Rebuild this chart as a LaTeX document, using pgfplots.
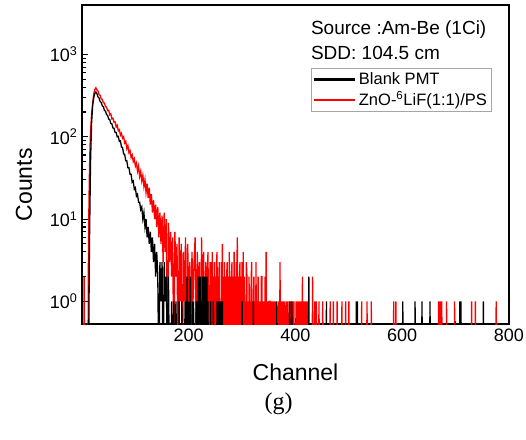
\documentclass[border=0pt]{standalone}
\usepackage{fontspec}
\setmainfont{Liberation Sans}
\newfontfamily\capfont{Liberation Serif}
\usepackage{pgfplots}
\pgfplotsset{compat=1.18}
\begin{document}
\begin{tikzpicture}[x=1pt,y=1pt]
\path[use as bounding box] (-82,-115) rectangle (444,324);
\begin{axis}[
  at={(0pt,0pt)}, anchor=south west,
  scale only axis, width=427pt, height=319pt,
  xmin=0, xmax=800, ymin=0.53, ymax=4000, ymode=log,
  xtick={200,400,600,800}, minor x tick num=1,
  ytick={1,10,100,1000},
  yticklabels={10\textsuperscript{0},10\textsuperscript{1},10\textsuperscript{2},10\textsuperscript{3}},
  tick align=inside, xtick pos=bottom, ytick pos=left,
  major tick length=6pt, minor tick length=3.5pt,
  axis line style={line width=1.6pt},
  every tick/.style={black, line width=1.1pt},
  /pgf/number format/assume math mode=true,
  tick label style={font=\fontsize{18}{20}\selectfont},
  xticklabel style={yshift=-1pt},
  yticklabel style={xshift=-1pt},
  xlabel={Channel}, ylabel={Counts},
  every axis x label/.style={at={(axis description cs:0.5,-0.15)}, anchor=center, font=\fontsize{23}{26}\selectfont},
  every axis y label/.style={at={(axis description cs:-0.136,0.436)}, anchor=center, rotate=90, font=\fontsize{23}{26}\selectfont},
  legend style={at={(rel axis cs:0.958,0.8025)}, anchor=north east, draw=gray!70,
    inner xsep=2pt, inner ysep=2pt, font=\fontsize{16.5}{19}\selectfont, row sep=2pt,
    cells={anchor=west}},
]
\addlegendimage{legend image code/.code={\fill[black] (0pt,-0.8pt) rectangle (40pt,0.8pt); \path (43pt,0pt);}}
\addlegendentry{Blank PMT}
\addlegendimage{legend image code/.code={\fill[red] (0pt,-0.8pt) rectangle (40pt,0.8pt); \path (43pt,0pt);}}
\addlegendentry{ZnO-\textsuperscript{6}LiF(1:1)/PS}
% zero counts are written as 0.1 (below the axis) so that the spectrum drops to the bottom
\addplot[red, line width=1.3pt, forget plot] table[row sep=\\] {
x y\\
3 0.1\\4 2\\5 0.1\\11 0.1\\12 3\\13 15\\14 40\\15 75\\16 115\\18 190\\20 260\\22 330\\24 375\\26 395\\28 370\\30 360\\32 325\\34 320\\36 290\\38 285\\40 260\\42 258\\44 232\\46 230\\48 208\\50 210\\52 185\\54 190\\56 165\\58 168\\60 150\\62 152\\64 132\\66 138\\68 118\\70 122\\72 104\\74 110\\76 96\\78 100\\80 84\\82 88\\84 72\\86 78\\88 64\\90 68\\92 56\\94 60\\96 50\\98 54\\100 44\\102 48\\104 38\\106 44\\108 33\\110 38\\112 29\\114 34\\116 25\\118 30\\120 21\\122 27\\124 18\\126 24\\128 15\\
130 20\\132 12\\134 17\\136 10\\138 15\\140 8\\142 14\\144 6\\146 12\\148 5\\150 11\\152 3\\154 12\\156 4\\158 10\\160 0.1\\162 9\\164 3\\166 7\\168 2\\170 6\\172 0.1\\174 7\\176 2\\178 5\\180 0.1\\182 6\\184 1\\186 5\\188 0.1\\190 4\\192 1\\194 6\\196 0.1\\198 5\\200 1\\202 3\\204 0.1\\206 4\\208 1\\210 3\\212 6\\214 0.1\\216 4\\218 1\\220 3\\222 0.1\\224 6\\226 1\\228 4\\230 0.1\\232 3\\234 1\\236 4\\238 0.1\\240 3\\
241 0.1\\242 3\\243 0.1\\244 4\\245 0.1\\246 2\\247 0.1\\248 3\\249 0.1\\250 2\\251 0.1\\252 3\\253 4\\254 0.1\\255 2\\256 0.1\\257 3\\258 0.1\\259 1\\260 0.1\\261 3\\262 0.1\\263 5\\264 0.1\\265 2\\266 0.1\\267 3\\268 0.1\\269 2\\270 0.1\\271 2\\272 3\\273 0.1\\274 2\\275 0.1\\276 4\\277 0.1\\278 2\\279 0.1\\280 2\\281 3\\282 0.1\\283 2\\284 0.1\\285 4\\286 0.1\\287 2\\288 0.1\\289 3\\290 2\\291 6\\292 0.1\\293 2\\294 0.1\\295 2\\296 3\\297 0.1\\298 2\\299 0.1\\300 3\\301 0.1\\302 4\\303 0.1\\304 2\\305 0.1\\306 1\\307 0.1\\308 3\\309 2\\310 0.1\\311 1\\312 0.1\\313 2\\314 0.1\\315 1\\316 0.1\\317 2\\318 3\\319 0.1\\320 1\\321 0.1\\322 2\\323 0.1\\324 1\\325 0.1\\326 3\\327 0.1\\328 1\\329 0.1\\330 2\\331 0.1\\332 1\\333 0.1\\334 1\\335 0.1\\336 2\\337 2\\338 0.1\\339 1\\340 0.1\\341 1\\342 0.1\\343 2\\344 0.1\\345 4\\346 0.1\\347 1\\348 0.1\\349 1\\350 0.1\\351 1\\352 1\\353 0.1\\354 1\\355 0.1\\356 1\\357 0.1\\358 1\\359 0.1\\360 1\\361 0.1\\362 1\\363 0.1\\
367 0.1\\368 1\\369 0.1\\370 0.1\\371 3\\372 0.1\\373 0.1\\374 1\\375 0.1\\376 0.1\\377 1\\378 0.1\\379 0.1\\380 1\\381 0.1\\382 0.1\\383 1\\384 0.1\\385 0.1\\386 1\\387 0.1\\389 0.1\\390 1\\391 0.1\\393 0.1\\394 1\\395 0.1\\396 0.1\\397 1\\398 0.1\\400 0.1\\401 1\\402 0.1\\403 0.1\\404 1\\405 0.1\\406 1\\407 0.1\\408 1\\409 0.1\\410 1\\411 0.1\\412 0.1\\413 2\\414 0.1\\415 1\\416 0.1\\417 1\\418 0.1\\419 1\\420 0.1\\421 1\\422 0.1\\423 1\\424 0.1\\
431 0.1\\432 2\\433 0.1\\435 0.1\\436 1\\437 0.1\\438 0.1\\439 1\\440 0.1\\443 0.1\\444 1\\445 0.1\\450 0.1\\451 1\\452 0.1\\464 0.1\\465 1\\466 0.1\\470 0.1\\471 1\\472 0.1\\477 0.1\\478 1\\479 0.1\\486 0.1\\487 1\\488 0.1\\493 0.1\\494 1\\495 0.1\\499 0.1\\500 1\\501 0.1\\523 0.1\\524 1\\525 0.1\\533 0.1\\534 1\\535 0.1\\541 0.1\\542 1\\543 0.1\\
583 0.1\\584 1\\585 0.1\\587 0.1\\588 1\\589 0.1\\667 0.1\\668 1\\669 0.1\\670 0.1\\671 1\\672 0.1\\673 0.1\\674 1\\675 0.1\\682 0.1\\683 1\\684 0.1\\697 0.1\\698 1\\699 0.1\\729 0.1\\730 1\\731 0.1\\736 0.1\\737 1\\738 0.1\\775 0.1\\776 1\\777 0.1\\800 0.1\\
};
\addplot[black, line width=1.3pt, forget plot] table[row sep=\\] {
x y\\
12 0.1\\14 5\\16 50\\18 150\\20 240\\22 300\\24 335\\26 350\\28 335\\30 305\\32 296\\34 268\\36 262\\38 238\\40 232\\42 210\\44 205\\46 186\\48 182\\50 164\\52 162\\54 145\\56 144\\58 128\\60 127\\62 113\\64 113\\66 100\\68 101\\70 88\\72 89\\74 75\\76 74\\78 62\\80 61\\82 51\\84 51\\86 42\\88 42\\90 35\\92 35\\94 28\\96 29\\98 23\\100 24\\102 19\\104 20\\106 16\\108 16\\110 13\\112 14\\114 10\\116 12\\118 8\\120 10\\122 6\\124 8\\126 5\\128 7\\130 4\\132 6\\134 3\\136 5\\138 2\\140 4\\142 2\\144 0.1\\146 3\\148 1\\150 3\\152 0.1\\154 3\\156 1\\158 2\\160 0.1\\162 2\\164 0.1\\166 0.1\\168 1\\170 0.1\\172 1\\174 0.1\\176 1\\178 0.1\\
181 0.1\\182 1\\183 0.1\\186 0.1\\187 1\\188 0.1\\192 0.1\\193 1\\194 0.1\\195 1\\196 0.1\\197 2\\198 0.1\\199 1\\200 0.1\\201 1\\202 0.1\\203 2\\204 0.1\\206 0.1\\207 1\\208 0.1\\209 1\\210 0.1\\213 0.1\\214 1\\215 0.1\\216 1\\217 0.1\\218 2\\219 0.1\\220 2\\221 0.1\\222 2\\223 0.1\\224 1\\225 0.1\\226 2\\227 0.1\\228 2\\229 0.1\\230 2\\231 0.1\\232 2\\233 0.1\\234 2\\235 0.1\\236 1\\237 0.1\\240 0.1\\241 1\\242 0.1\\245 0.1\\246 1\\247 0.1\\252 0.1\\253 1\\254 0.1\\255 1\\256 0.1\\257 1\\258 0.1\\259 1\\260 0.1\\261 1\\262 0.1\\263 1\\264 0.1\\
299 0.1\\300 1\\301 0.1\\320 0.1\\321 1\\322 0.1\\364 0.1\\365 1\\366 0.1\\388 0.1\\389 1\\390 0.1\\392 0.1\\393 1\\394 0.1\\424 0.1\\425 2\\426 0.1\\457 0.1\\458 1\\459 0.1\\513 0.1\\514 1\\515 0.1\\516 1\\517 0.1\\600 0.1\\601 1\\602 0.1\\623 0.1\\624 1\\625 0.1\\636 0.1\\637 1\\638 0.1\\651 0.1\\652 1\\653 0.1\\707 0.1\\708 1\\709 0.1\\710 1\\711 0.1\\751 0.1\\752 1\\753 0.1\\800 0.1\\
};
\node[anchor=base west, font=\fontsize{19}{22}\selectfont, inner sep=0pt] at (rel axis cs:0.536,0.906) {Source :Am-Be (1Ci)};
\node[anchor=base west, font=\fontsize{19}{22}\selectfont, inner sep=0pt] at (rel axis cs:0.536,0.828) {SDD: 104.5 cm};
\end{axis}
\node[font=\capfont\fontsize{24}{27}\selectfont] at (196.5,-80) {(g)};
\end{tikzpicture}
\end{document}
